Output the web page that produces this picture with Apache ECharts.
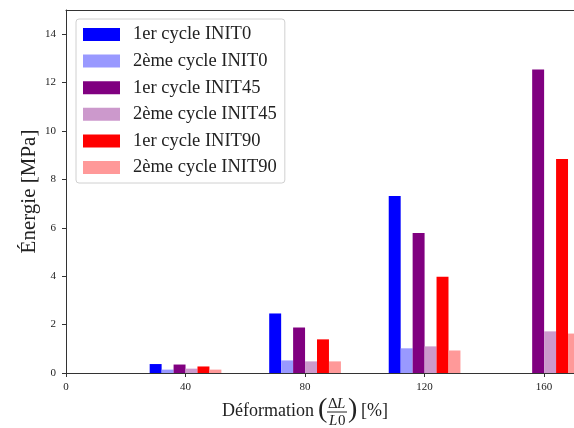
<!DOCTYPE html>
<html>
<head>
<meta charset="utf-8">
<script src="https://cdn.jsdelivr.net/npm/echarts@6/dist/echarts.min.js"></script>
<style>
html,body{margin:0;padding:0;background:#fff;}
#chart{width:574px;height:428px;}
</style>
</head>
<body>
<div id="chart"></div>
<script>
// ---- data ----
const deformation = [40, 80, 120, 160];
const init0_c1  = [0.37, 2.46, 7.31, null];
const init0_c2  = [0.14, 0.52, 1.02, null];
const init45_c1 = [0.35, 1.88, 5.79, 12.54];
const init45_c2 = [0.18, 0.48, 1.10, 1.72];
const init90_c1 = [0.27, 1.39, 3.98, 8.84];
const init90_c2 = [0.14, 0.48, 0.93, 1.63];
const seriesNames = ['1er cycle INIT0', '2ème cycle INIT0', '1er cycle INIT45', '2ème cycle INIT45', '1er cycle INIT90', '2ème cycle INIT90'];
const barOffsets = [-10, -6, -2, 2, 6, 10];
const xTicks = [0, 40, 80, 120, 160];
const yTicks = [0, 2, 4, 6, 8, 10, 12, 14];

const allValues = [init0_c1, init0_c2, init45_c1, init45_c2, init90_c1, init90_c2];
const colors = ['#0000ff', '#9999ff', '#800080', '#cc99cc', '#ff0000', '#ff9999'];
const BAR_W = 4;
const FONT = '"Liberation Serif", "DejaVu Serif", serif';

const series = allValues.map((vals, si) => ({
  name: seriesNames[si],
  type: 'custom',
  clip: true,
  itemStyle: { color: colors[si] },
  encode: { x: 0, y: 1 },
  data: deformation.map((g, i) => vals[i] == null ? null : [g + barOffsets[si], vals[i]]).filter(d => d),
  renderItem: function (params, api) {
    const x = api.value(0), y = api.value(1);
    const p0 = api.coord([x - BAR_W / 2, y]);
    const p1 = api.coord([x + BAR_W / 2, 0]);
    return {
      type: 'rect',
      shape: { x: p0[0], y: p0[1], width: p1[0] - p0[0], height: p1[1] - p0[1] },
      style: { fill: api.visual('color') }
    };
  }
}));

const chart = echarts.init(document.getElementById('chart'), null, { renderer: 'canvas' });
chart.setOption({
  animation: false,
  backgroundColor: '#fff',
  textStyle: { fontFamily: FONT },
  grid: { left: 66, right: 0, top: 10, bottom: 55 },
  legend: {
    left: 76, top: 19, orient: 'vertical',
    icon: 'rect', itemWidth: 37, itemHeight: 13, itemGap: 7.6,
    padding: [6, 8, 6, 7],
    selectedMode: false,
    backgroundColor: 'rgba(255,255,255,0.8)',
    borderColor: '#d0d0d0', borderWidth: 1, borderRadius: 3,
    textStyle: { fontFamily: FONT, fontSize: 18.5, color: '#222', padding: [0, 0, 0, 8] },
    data: seriesNames
  },
  xAxis: [{
    type: 'value', min: 0, max: 170, z: 10,
    splitLine: { show: false },
    axisLine: { show: true, onZero: false, lineStyle: { color: '#333', width: 1 } },
    axisTick: { show: true, length: 4, lineStyle: { color: '#333' }, customValues: xTicks },
    axisLabel: { fontFamily: FONT, fontSize: 11, color: '#222', margin: 9, customValues: xTicks }
  }, {
    type: 'value', min: 0, max: 170, position: 'top', z: 10,
    splitLine: { show: false },
    axisLine: { show: true, onZero: false, lineStyle: { color: '#333', width: 1 } },
    axisTick: { show: false }, axisLabel: { show: false }
  }],
  yAxis: {
    type: 'value', min: 0, max: 15,
    name: 'Énergie [MPa]', nameLocation: 'middle', nameGap: 26, nameRotate: 90,
    nameMoveOverlap: false,
    nameTextStyle: { fontFamily: FONT, fontSize: 21, color: '#222' },
    splitLine: { show: false },
    axisLine: { show: true, onZero: false, lineStyle: { color: '#333', width: 1 } },
    axisTick: { show: true, length: 4, lineStyle: { color: '#333' }, customValues: yTicks },
    axisLabel: { fontFamily: FONT, fontSize: 11, color: '#222', margin: 10, customValues: yTicks }
  },
  graphic: [
    { type: 'text', left: 222, top: 402, style: { text: 'Déformation', font: '18px ' + FONT, fill: '#222' } },
    { type: 'text', left: 318, top: 396, style: { text: '(', font: '28px ' + FONT, fill: '#222' } },
    { type: 'text', left: 328, top: 397, style: { text: 'Δ', font: '15px ' + FONT, fill: '#222' } },
    { type: 'text', left: 337, top: 397, style: { text: 'L', font: 'italic 15px ' + FONT, fill: '#222' } },
    { type: 'line', shape: { x1: 327, y1: 412, x2: 347, y2: 412 }, style: { stroke: '#222', lineWidth: 1 } },
    { type: 'text', left: 329, top: 414, style: { text: 'L', font: 'italic 15px ' + FONT, fill: '#222' } },
    { type: 'text', left: 338, top: 414, style: { text: '0', font: '15px ' + FONT, fill: '#222' } },
    { type: 'text', left: 348, top: 396, style: { text: ')', font: '28px ' + FONT, fill: '#222' } },
    { type: 'text', left: 361, top: 402, style: { text: '[%]', font: '18px ' + FONT, fill: '#222' } }
  ],
  series: series
});
</script>
</body>
</html>
